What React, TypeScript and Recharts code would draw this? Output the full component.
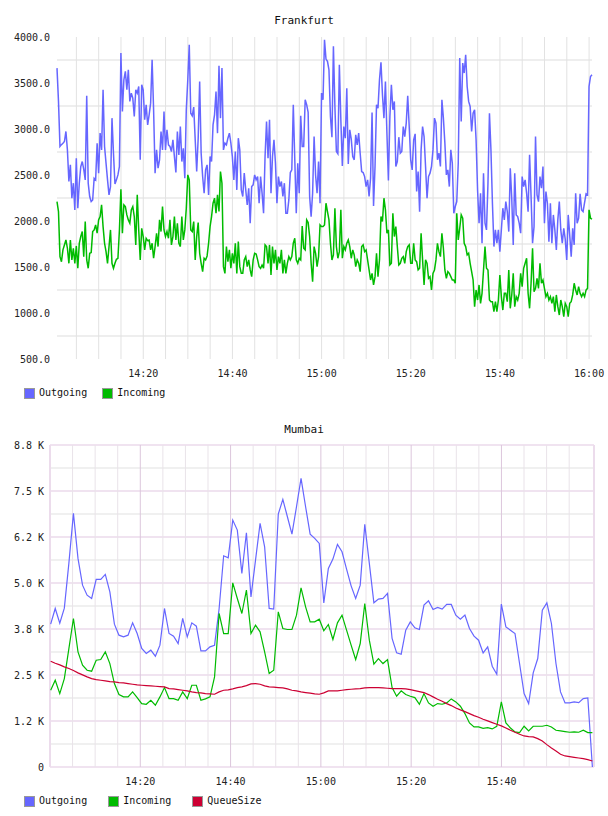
import { CartesianGrid, Line, LineChart, XAxis, YAxis } from "recharts";

const MONO = '"DejaVu Sans Mono", monospace';
const BLUE = "#6666ff";
const GREEN = "#00bb00";
const RED = "#cc0033";
const INK = "#222";

// Frankfurt: one sample every 20 s starting 14:00:39
const frankfurtStartSec = 39;
const frankfurtStepSec = 20;

const frankfurtOutgoing = [
  3662, 3300, 2810, 2830, 2846, 2864, 2973, 2773, 2429, 2610, 2248,
  2411, 2120, 2683, 2139, 2411, 2592, 2646, 2560, 2447, 3361, 2411,
  2266, 2211, 2229, 2465, 2447, 2846, 2520, 2955, 2773, 3426,
  2810, 2628, 2447, 2284, 2374, 3118, 2737, 2403, 2447, 2501,
  2592, 3825, 3190, 3535, 3626, 3426, 3644, 3299, 3390, 3336,
  3136, 3426, 3390, 3463, 2665, 3481, 3426, 3100, 3263, 3045,
  3154, 3281, 3753, 3209, 2520, 2773, 2574, 2665, 2973, 2773,
  3190, 2773, 2991, 2828, 2810, 2755, 2882, 2700, 2527, 2973, 2719,
  3027, 2646, 2791, 2465, 3209, 3535, 3916,
  3172, 3143, 3238, 2882, 2538, 2900, 3517, 2737, 2483, 2302, 2556,
  2610, 2284, 2701, 2646, 3045, 3154, 3408, 2955, 3687, 3118,
  3662, 2773, 2846, 2828, 2900, 2955, 2846, 2700, 2447, 2755, 2338,
  2900, 2773, 2338, 2266, 2520, 2338, 2175, 2356, 1976, 2374,
  2393, 2501, 2447, 2483, 2193, 2483, 2300, 2084, 2701, 3082, 2683,
  3100, 2302, 2701, 2882, 2628, 2193, 2483, 2374, 2429, 2266,
  2411, 2084, 2084, 2229, 2527, 2556, 3263, 2665, 2084, 2628,
  2302, 3143, 2810, 2810, 3317, 3263, 3180, 2266, 2048, 2302,
  2918, 2500, 2302, 2646, 2193, 3390,
  3317, 3970, 3760, 3735, 3644, 3136, 2911, 3898, 3245, 2755,
  2730, 3698, 3100, 2599, 3027, 2900, 3444, 2621, 2991,
  2889, 2701, 2665, 2936, 2828, 2955, 2737, 2538, 2527,
  2483, 2374, 2447, 2266, 2465, 3180, 2164, 2592, 3263, 3227,
  3535, 3724, 3372, 3118, 3517, 2955, 2440, 3136, 3481, 3209,
  3299, 2592, 2646, 2911, 2737, 2755, 3027, 2918, 3063,
  3361, 3027, 2665, 2556, 2882, 2947, 2320, 2538, 2102, 2773,
  3027, 2918, 2592, 2248, 2483, 2520, 2592, 2773, 3118,
  3063, 2665, 2737, 2592, 3317, 3118, 2846, 2501, 2556,
  2374, 2773, 2628, 2084,
  2157, 2211, 2628, 3771, 3082, 3716, 3608, 3807, 3462, 3300, 3245,
  2973, 3172, 3209, 2882, 2338, 1976, 2302, 1758, 2520, 1976,
  1903, 2411, 3172, 2773, 2193, 1722, 1903, 1758, 1903, 1667,
  1903, 2139, 2012, 2211, 2102, 1885, 2574, 2248, 1740, 2520,
  2066, 2048, 1976, 1867, 2483, 2374, 2447, 2302, 2100, 2719, 2266,
  1758, 1939, 2918, 2284, 2211, 2483, 2356, 2592, 1976, 2320,
  2193, 1776, 2193, 1758, 2066, 1903, 1686, 2012, 2211, 1903,
  1758, 1921, 1800, 1577, 2066, 1849, 1613, 1921, 1740, 2302, 1976,
  2030, 2295, 2121, 2102, 2200, 2295, 2284, 3462, 3571, 3589,
];

const frankfurtIncoming = [
  2211, 2103, 1613, 1558, 1686, 1740, 1794, 1704, 1540,
  1794, 1577, 1704, 1540, 1729, 1486, 1758, 1831, 1885, 1613,
  1994, 1577, 1486, 1649, 1657, 1885, 1903, 1958, 1867,
  2012, 2048, 2175, 1939, 1758, 1667, 1540, 1722, 1903, 1540,
  1486, 1540, 1584, 1595, 1903, 2346, 1867, 2175, 2157, 2066,
  2012, 1976, 2121, 2157, 2048, 1740, 2284, 1903, 1577, 1921,
  1831, 1686, 1812, 1787, 1794, 1686, 1758, 1595, 1722, 1867,
  1722, 2012, 1885, 2157, 1903, 1831, 1885, 1812, 2012, 1740,
  1831, 2048, 1794, 1976, 1758, 1722, 2048, 1794, 1903, 2139,
  2501, 2447,
  1903, 1885, 1994, 1577, 1831, 1983, 1649, 1540, 1450, 1595,
  1577, 1620, 1758, 1939, 2048, 2193, 2248, 2084, 2284, 2103,
  2538, 2411, 1504, 1431, 1722, 1558, 1686, 1486, 1649, 1540,
  1758, 1431, 1776, 1504, 1431, 1431, 1577, 1613, 1504, 1577,
  1468, 1395, 1577, 1649, 1642, 1577, 1504, 1486, 1522, 1486,
  1740, 1722, 1540, 1740, 1413, 1722, 1540, 1686, 1468, 1613,
  1540, 1686, 1431, 1577, 1431, 1540, 1613, 1577, 1613, 1758,
  1812, 1577, 1540, 1595, 1577, 1946, 1704, 1686, 2012, 1983,
  1831, 1540, 1341, 1722, 1649, 1504, 1613, 1958, 1939,
  1939, 1958, 2193, 2103, 2012, 1758, 1577, 1631, 2139, 1722,
  1595, 1667, 2121, 1595, 1722, 1686, 1758, 1794, 1722,
  1595, 1686, 1631, 1504, 1577, 1540, 1450, 1722, 1740,
  1667, 1686, 1577, 1468, 1359, 1431, 1305, 1395, 1649, 1395,
  1577, 2048, 1994, 2248, 2121, 1867, 1903, 1522, 1540, 2084,
  1831, 1939, 1722, 1522, 1540, 1595, 1613, 1540, 1667,
  1722, 1740, 1540, 1540, 1758, 1577, 1558, 1468, 1486, 1867,
  1577, 1305, 1577, 1540, 1377, 1395, 1250, 1431, 1468, 1577,
  1758, 1667, 1613, 1867, 1704, 1468, 1377, 1450, 1431,
  1395, 1359, 1359,
  1323, 2084, 1794, 1921, 2066, 2030, 1758, 1722, 1631, 1649,
  1540, 1450, 1359, 1069, 1250, 1141, 1305, 1105, 1214, 1468, 1722,
  1486, 1468, 1141, 1123, 1123, 1014, 1123, 1014, 1141, 1413,
  1178, 1032, 1214, 1214, 1123, 1468, 1051, 1196, 1431, 1069,
  1178, 1141, 1214, 1431, 1287, 1486, 1540, 1595, 1214, 1051,
  1323, 1704, 1232, 1268, 1377, 1268, 1540, 1323, 1359, 1268,
  1178, 1214, 1141, 1178, 1105, 1178, 1014, 1196, 1069, 978,
  1141, 1069, 960, 1105, 1069, 960, 1105, 1123, 1196, 1323, 1250,
  1196, 1287, 1214, 1178, 1214, 1178, 1250, 1268, 2121, 2030, 2019,
];

const frankfurtYTicks = [500, 1000, 1500, 2000, 2500, 3000, 3500, 4000];
const frankfurtGridY = [750, 1250, 1750, 2250, 2750, 3250, 3750];
const frankfurtGridMinutes = [
  5, 10, 15, 20, 25, 30, 35, 40, 45, 50, 55, 60,
  65, 70, 75, 80, 85, 90, 95, 100, 105, 110, 115, 120,
];
const frankfurtLabelMinutes = [20, 40, 60, 80, 100, 120];
const frankfurtTimeLabels = ["14:20", "14:40", "15:00", "15:20", "15:40", "16:00"];

// Mumbai: one sample roughly every minute starting 14:00:09
const mumbaiStartSec = 9;
const mumbaiStepSec = 60.5;

const mumbaiOutgoing = [
  3881, 4308, 3908, 4316, 5541, 6892, 5668, 4942, 4670, 4580,
  5097, 5097, 5233, 4760, 3881, 3582, 3536, 3582, 3917, 3628,
  3220, 3084, 3174, 3011, 3310, 4308, 3628, 3555, 3356, 4036,
  3536, 3917, 3827, 3155, 3155, 3264, 3310, 4300, 5739, 5685,
  6710, 6438, 5260, 6365, 4624, 5622, 6620, 5984, 4308, 4290,
  6873, 7273, 6800, 6329, 7072, 7844, 7072, 6329, 6212, 6076,
  4461, 5397, 5650, 6049, 5848, 5377, 4923, 4580, 4942, 6593,
  5532, 4461, 4561, 4580, 4716, 3492, 3101, 3065, 3718, 3944,
  3781, 3737, 4398, 4515, 4281, 4336, 4290, 4417, 4417, 4126,
  4017, 4126, 3764, 3555, 3446, 3101, 3264, 2739, 2521, 4425,
  3808, 3718, 3628, 2812, 1996, 1724, 2557, 2948, 4262, 4461,
  3900, 2812, 2040, 1741, 1741, 1768, 1750, 1860, 1877, 0,
];

const mumbaiIncoming = [
  2086, 2358, 1995, 2403, 3219, 4035, 3129, 2766, 2630, 2603,
  2902, 2920, 3129, 2811, 2267, 1968, 1905, 1905, 2041, 1887,
  1723, 1705, 1814, 1678, 1905, 2158, 1859, 1859, 1814, 2041,
  1859, 2222, 2222, 1814, 1850, 1905, 2449, 4171, 3627, 3627,
  5005, 4579, 4171, 4806, 3627, 3854, 3673, 3129, 2539, 2630,
  4217, 3763, 3736, 3736, 4126, 4870, 4353, 3945, 3945, 4017,
  3700, 3872, 3464, 3917, 4126, 3718, 3310, 2920, 3355, 4443,
  3446, 2793, 2947, 2811, 2920, 2158, 1923, 2068, 1968, 1923,
  1887, 1705, 1995, 1741, 1651, 1723, 1705, 1741, 1850, 1769,
  1651, 1451, 1197, 1089, 1089, 1052, 1070, 1034, 1107, 1769,
  1197, 1061, 953, 934, 1107, 980, 1107, 1107, 1107, 1134,
  1089, 998, 980, 962, 944, 953, 944, 998, 934, 934,
];

const mumbaiQueueSize = [
  2875, 2820, 2775, 2721, 2675, 2621, 2558, 2503, 2449, 2403,
  2376, 2358, 2340, 2322, 2313, 2295, 2286, 2267, 2249, 2231,
  2222, 2213, 2204, 2195, 2186, 2177, 2131, 2122, 2104, 2086,
  2068, 2041, 2023, 2014, 1995, 1986, 1977, 2041, 2086, 2095,
  2122, 2158, 2177, 2213, 2258, 2267, 2249, 2204, 2177, 2168,
  2158, 2149, 2122, 2086, 2068, 2041, 2023, 2005, 1986, 1977,
  2014, 2068, 2068, 2068, 2086, 2104, 2113, 2122, 2131, 2149,
  2158, 2158, 2158, 2149, 2140, 2131, 2131, 2131, 2122, 2104,
  2077, 2050, 2023, 1968, 1905, 1841, 1787, 1723, 1669, 1605,
  1551, 1506, 1451, 1397, 1352, 1297, 1252, 1207, 1161, 1116,
  1061, 998, 944, 889, 844, 826, 817, 771, 708, 608,
  517, 436, 345, 300, 282, 263, 245, 227, 200, 164,
];

const mumbaiYTicks = [0, 1250, 2500, 3750, 5000, 6250, 7500, 8750];
const mumbaiYLabels = ["0", "1.2 K", "2.5 K", "3.8 K", "5.0 K", "6.2 K", "7.5 K", "8.8 K"];
const mumbaiMinorY = [625, 1875, 3125, 4375, 5625, 6875, 8125];
const mumbaiMinorMinutes = [
  5, 10, 15, 25, 30, 35, 45, 50, 55, 65, 70, 75, 85, 90, 95, 105, 110, 115,
];
const mumbaiMajorMinutes = [20, 40, 60, 80, 100];
const mumbaiTimeLabels = ["14:20", "14:40", "15:00", "15:20", "15:40"];
const mumbaiDomain = [0, 120.5];

const frankfurtRows = frankfurtOutgoing.map((v, i) => ({
  t: (frankfurtStartSec + i * frankfurtStepSec) / 60,
  outgoing: v,
  incoming: frankfurtIncoming[i],
}));

const mumbaiRows = mumbaiOutgoing.map((v, i) => ({
  t: (mumbaiStartSec + i * mumbaiStepSec) / 60,
  outgoing: v,
  incoming: mumbaiIncoming[i],
  queue: mumbaiQueueSize[i],
}));

const tickStyle = { fontSize: 10, fontFamily: MONO, fill: INK };

function Title({ text, top }: { text: string; top: number }) {
  return (
    <div
      style={{
        position: "absolute",
        left: 0,
        width: 608,
        top,
        textAlign: "center",
        fontFamily: MONO,
        fontSize: 11,
        lineHeight: "14px",
        color: "#111",
      }}
    >
      {text}
    </div>
  );
}

function Legend({
  items,
  top,
  gap,
}: {
  items: { label: string; color: string }[];
  top: number;
  gap: number;
}) {
  return (
    <div
      style={{
        position: "absolute",
        left: 24,
        top,
        display: "flex",
        alignItems: "center",
        fontFamily: MONO,
        fontSize: 10,
        lineHeight: "12px",
        color: "#111",
      }}
    >
      {items.map((it, i) => (
        <div
          key={it.label}
          style={{ display: "flex", alignItems: "center", marginLeft: i ? gap : 0 }}
        >
          <span
            style={{
              width: 11,
              height: 11,
              boxSizing: "border-box",
              border: "1px solid #999",
              background: it.color,
              marginRight: 4,
            }}
          />
          <span>{it.label}</span>
        </div>
      ))}
    </div>
  );
}

export default function App() {
  return (
    <div
      style={{
        position: "absolute",
        left: 0,
        top: 0,
        width: 608,
        height: 816,
        background: "#fff",
      }}
    >
      <Title text="Frankfurt" top={14} />
      <div style={{ position: "absolute", left: 0, top: 0 }}>
        <LineChart
          width={608}
          height={380}
          data={frankfurtRows}
          margin={{ top: 37, right: 16, bottom: 0, left: 0 }}
        >
          <CartesianGrid
            horizontalValues={frankfurtGridY}
            vertical={false}
            stroke="#eeeeee"
            strokeWidth={2}
          />
          <CartesianGrid
            verticalValues={frankfurtGridMinutes}
            horizontal={false}
            stroke="#e2e2e2"
          />
          <XAxis
            dataKey="t"
            type="number"
            domain={["dataMin", "dataMax"]}
            ticks={frankfurtLabelMinutes}
            tickFormatter={(m: number) => frankfurtTimeLabels[frankfurtLabelMinutes.indexOf(m)]}
            axisLine={false}
            tickLine={false}
            tickSize={0}
            tickMargin={11}
            height={21}
            tick={tickStyle}
            interval={0}
          />
          <YAxis
            type="number"
            domain={[500, 4000]}
            ticks={frankfurtYTicks}
            tickFormatter={(v: number) => v.toFixed(1)}
            axisLine={false}
            tickLine={false}
            tickSize={0}
            tickMargin={7}
            width={57}
            tick={tickStyle}
            interval={0}
          />
          <Line
            dataKey="outgoing"
            stroke={BLUE}
            strokeWidth={1.5}
            dot={false}
            isAnimationActive={false}
          />
          <Line
            dataKey="incoming"
            stroke={GREEN}
            strokeWidth={1.5}
            dot={false}
            isAnimationActive={false}
          />
        </LineChart>
      </div>
      <Legend
        top={387}
        gap={15}
        items={[
          { label: "Outgoing", color: BLUE },
          { label: "Incoming", color: GREEN },
        ]}
      />

      <Title text="Mumbai" top={423} />
      <div style={{ position: "absolute", left: 0, top: 400 }}>
        <LineChart
          width={608}
          height={389}
          data={mumbaiRows}
          margin={{ top: 45, right: 14, bottom: 0, left: 0 }}
        >
          <CartesianGrid
            horizontalValues={mumbaiMinorY}
            vertical={false}
            stroke="#f0f0f0"
            strokeWidth={2}
          />
          <CartesianGrid
            horizontalValues={mumbaiYTicks}
            vertical={false}
            stroke="#f0e3f0"
            strokeWidth={2}
          />
          <CartesianGrid
            verticalValues={mumbaiMinorMinutes}
            horizontal={false}
            stroke="#e9e3e9"
          />
          <CartesianGrid
            verticalValues={mumbaiMajorMinutes}
            horizontal={false}
            stroke="#dcc6dc"
          />
          <CartesianGrid
            verticalValues={mumbaiDomain}
            horizontal={false}
            stroke="#ecdcec"
            strokeWidth={2}
          />
          <XAxis
            dataKey="t"
            type="number"
            domain={mumbaiDomain}
            ticks={mumbaiMajorMinutes}
            tickFormatter={(m: number) => mumbaiTimeLabels[mumbaiMajorMinutes.indexOf(m)]}
            axisLine={false}
            tickLine={false}
            tickSize={0}
            tickMargin={11}
            height={22}
            tick={tickStyle}
            interval={0}
          />
          <YAxis
            type="number"
            domain={[0, 8750]}
            ticks={mumbaiYTicks}
            tickFormatter={(v: number) => mumbaiYLabels[mumbaiYTicks.indexOf(v)]}
            axisLine={false}
            tickLine={false}
            tickSize={0}
            tickMargin={6}
            width={50}
            tick={tickStyle}
            interval={0}
          />
          <Line
            dataKey="outgoing"
            stroke={BLUE}
            strokeWidth={1.2}
            dot={false}
            isAnimationActive={false}
          />
          <Line
            dataKey="incoming"
            stroke={GREEN}
            strokeWidth={1.2}
            dot={false}
            isAnimationActive={false}
          />
          <Line
            dataKey="queue"
            stroke={RED}
            strokeWidth={1.2}
            dot={false}
            isAnimationActive={false}
          />
        </LineChart>
      </div>
      <Legend
        top={795}
        gap={21}
        items={[
          { label: "Outgoing", color: BLUE },
          { label: "Incoming", color: GREEN },
          { label: "QueueSize", color: RED },
        ]}
      />
    </div>
  );
}
